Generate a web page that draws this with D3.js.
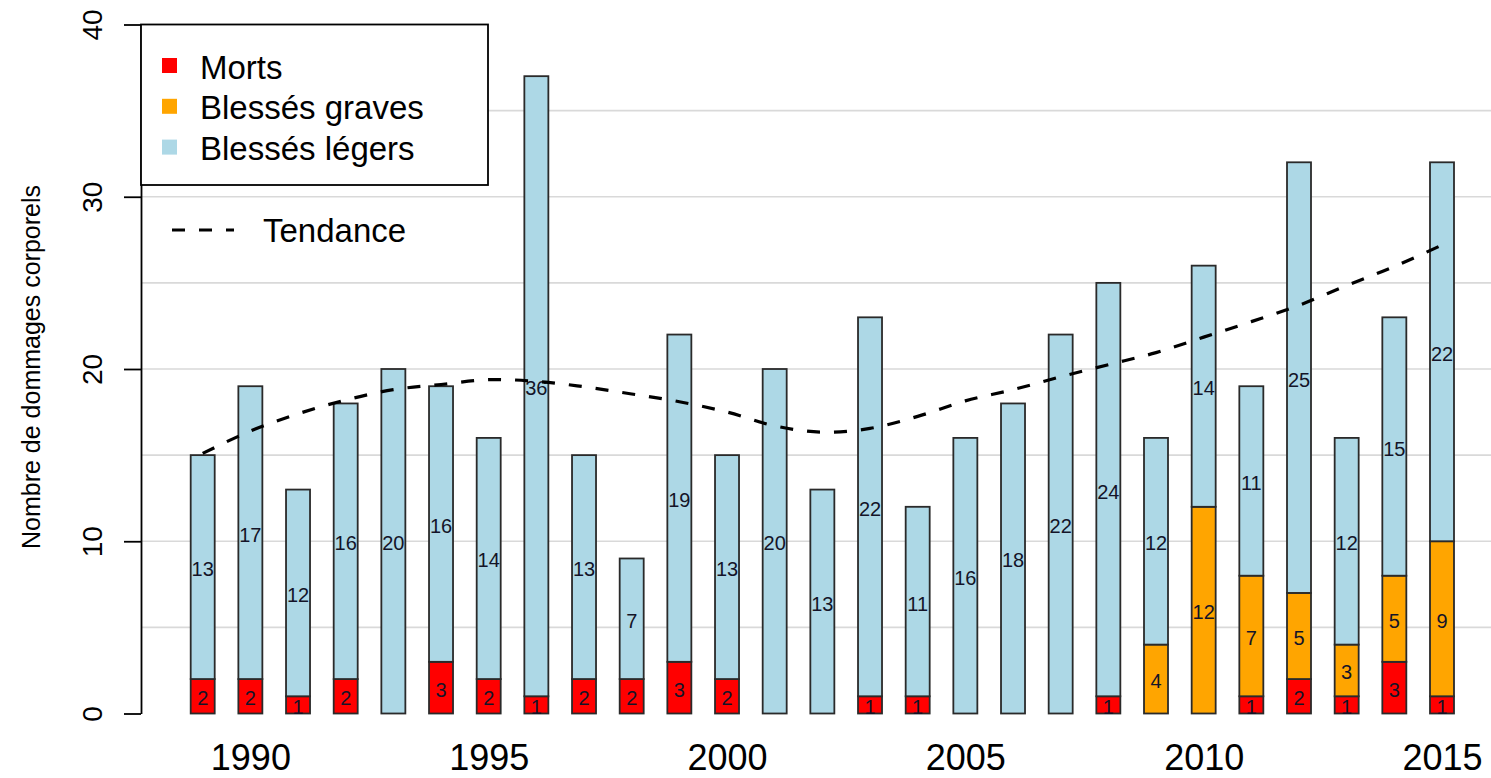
<!DOCTYPE html>
<html>
<head>
<meta charset="utf-8">
<script src="https://cdn.jsdelivr.net/npm/d3@7"></script>
<style>
  body { margin: 0; background: #fff; }
  svg { display: block; font-family: "Liberation Sans", Arial, sans-serif; }
</style>
</head>
<body>
<div class="container"></div>
<script>
// years and series (counts per year)
var years = [1989,1990,1991,1992,1993,1994,1995,1996,1997,1998,1999,2000,2001,2002,
             2003,2004,2005,2006,2007,2008,2009,2010,2011,2012,2013,2014,2015];
var morts   = [2,2,1,2,0,3,2,1,2,2,3,2,0,0,1,1,0,0,0,1,0,0,1,2,1,3,1];
var graves  = [0,0,0,0,0,0,0,0,0,0,0,0,0,0,0,0,0,0,0,0,4,12,7,5,3,5,9];
var legers  = [13,17,12,16,20,16,14,36,13,7,19,13,20,13,22,11,16,18,22,24,12,14,11,25,12,15,22];
var tendance = [15.1,16.4,17.4,18.2,18.8,19.1,19.38,19.28,18.97,18.55,18.1,17.5,16.7,16.33,
                16.55,17.25,18.15,18.8,19.55,20.25,20.95,21.85,22.75,23.7,24.85,25.95,27.2];

var seriesNames = ["Morts", "Blessés graves", "Blessés légers"];
var seriesColors = ["#ff0000", "#ffa500", "#add8e6"];
var yTicks = [0, 10, 20, 30, 40];
var gridValues = [5, 10, 15, 20, 25, 30, 35];
var xLabels = [1990, 1995, 2000, 2005, 2010, 2015];

var width = 1491, height = 778;
var barWidth = 24;

function init() {
    var svg = d3.select(".container").append("svg")
        .attr("width", width)
        .attr("height", height);

    var x = d3.scaleLinear().domain([1989, 2015]).range([202.7, 1442]);
    var y = d3.scaleLinear().domain([0, 40]).range([713.5, 24.5]);

    // grid
    svg.append("g").selectAll("line")
        .data(gridValues)
        .enter()
        .append("line")
        .attr("x1", 141).attr("x2", width)
        .attr("y1", function (d) { return y(d); })
        .attr("y2", function (d) { return y(d); })
        .attr("stroke", "#d9d9d9")
        .attr("stroke-width", 1.6);

    // stack the three series
    var table = years.map(function (yr, i) {
        return { year: yr, "Morts": morts[i], "Blessés graves": graves[i], "Blessés légers": legers[i] };
    });
    var stacked = d3.stack().keys(seriesNames)(table);

    var layers = svg.append("g").selectAll("g")
        .data(stacked)
        .enter()
        .append("g")
        .attr("fill", function (d, i) { return seriesColors[i]; });

    layers.selectAll("rect")
        .data(function (d) { return d.filter(function (s) { return s[1] - s[0] > 0; }); })
        .enter()
        .append("rect")
        .attr("x", function (d) { return x(d.data.year) - barWidth / 2; })
        .attr("y", function (d) { return y(d[1]); })
        .attr("width", barWidth)
        .attr("height", function (d) { return y(d[0]) - y(d[1]); })
        .attr("stroke", "#2a2a2a")
        .attr("stroke-width", 1.8);

    // value labels in the middle of each segment
    layers.selectAll("text")
        .data(function (d) { return d.filter(function (s) { return s[1] - s[0] > 0; }); })
        .enter()
        .append("text")
        .attr("x", function (d) { return x(d.data.year); })
        .attr("y", function (d) { return y((d[0] + d[1]) / 2) + 2; })
        .attr("text-anchor", "middle")
        .attr("dominant-baseline", "central")
        .attr("fill", "#141428")
        .attr("font-size", "20px")
        .text(function (d) { return d[1] - d[0]; });

    // trend line
    var line = d3.line()
        .x(function (d, i) { return x(years[i]); })
        .y(function (d) { return y(d); })
        .curve(d3.curveCatmullRom);

    svg.append("path")
        .datum(tendance)
        .attr("d", line)
        .attr("fill", "none")
        .attr("stroke", "#000")
        .attr("stroke-width", 3.2)
        .attr("stroke-dasharray", "13,14");

    // y axis
    var yAxis = svg.append("g")
        .attr("transform", "translate(141,0)")
        .call(d3.axisLeft(y).tickValues(yTicks).tickSize(17).tickSizeOuter(0));
    yAxis.select(".domain").attr("stroke", "#000").attr("stroke-width", 1.8);
    yAxis.selectAll(".tick line").attr("stroke", "#000").attr("stroke-width", 1.8);
    yAxis.selectAll(".tick text")
        .attr("x", 0).attr("dy", 0)
        .attr("transform", "translate(-39,0) rotate(-90)")
        .attr("text-anchor", "middle")
        .attr("fill", "#000")
        .attr("font-size", "28px")
        .attr("font-family", "Liberation Sans, Arial, sans-serif");

    // x labels only (no axis line)
    var xAxis = svg.append("g")
        .attr("transform", "translate(0,713.5)")
        .call(d3.axisBottom(x).tickValues(xLabels).tickSize(0).tickFormat(d3.format("d")));
    xAxis.select(".domain").remove();
    xAxis.selectAll(".tick text")
        .attr("y", 56.5).attr("dy", 0)
        .attr("fill", "#000")
        .attr("font-size", "36px")
        .attr("font-family", "Liberation Sans, Arial, sans-serif");

    // y title
    svg.append("text")
        .attr("transform", "translate(40,367) rotate(-90)")
        .attr("text-anchor", "middle")
        .attr("font-size", "25px")
        .text("Nombre de dommages corporels");

    // legend
    var legend = svg.append("g");
    legend.append("rect")
        .attr("x", 141).attr("y", 24.5)
        .attr("width", 347).attr("height", 160.5)
        .attr("fill", "#fff")
        .attr("stroke", "#000")
        .attr("stroke-width", 1.8);

    var items = legend.selectAll("g.item")
        .data(seriesNames)
        .enter()
        .append("g")
        .classed("item", true)
        .attr("transform", function (d, i) { return "translate(0," + (i * 40.8) + ")"; });

    items.append("rect")
        .attr("x", 162).attr("y", 58)
        .attr("width", 15).attr("height", 15)
        .attr("fill", function (d, i) { return seriesColors[i]; });

    items.append("text")
        .attr("x", 200).attr("y", 78.5)
        .attr("font-size", "33px")
        .text(function (d) { return d; });

    legend.append("line")
        .attr("x1", 172).attr("x2", 234)
        .attr("y1", 230).attr("y2", 230)
        .attr("stroke", "#000")
        .attr("stroke-width", 3.2)
        .attr("stroke-dasharray", "13,14");

    legend.append("text")
        .attr("x", 263).attr("y", 242)
        .attr("font-size", "33px")
        .text("Tendance");
}

init();
</script>
</body>
</html>
